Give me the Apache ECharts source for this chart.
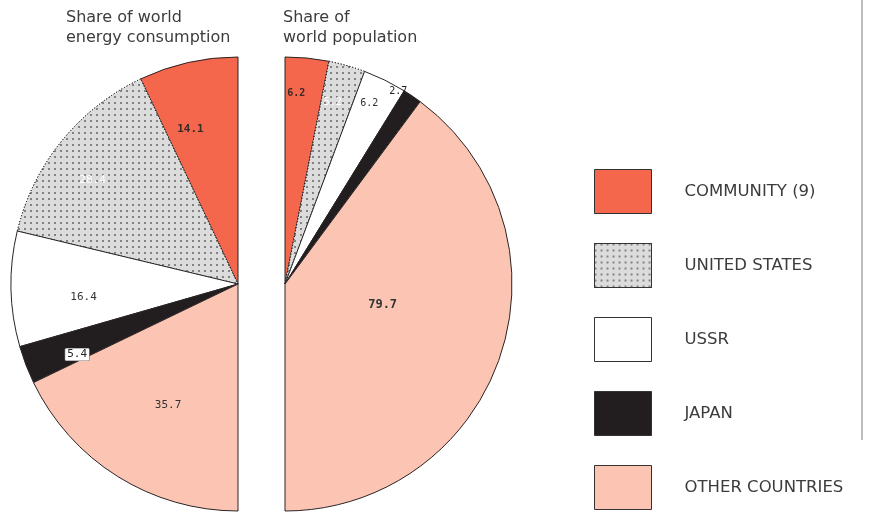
<!DOCTYPE html>
<html>
<head>
<meta charset="utf-8">
<script src="https://cdn.jsdelivr.net/npm/echarts@6/dist/echarts.min.js"></script>
<style>
  html, body { margin: 0; padding: 0; background: #fff; }
  #chart { width: 870px; height: 513px; }
</style>
</head>
<body>
<div id="chart"></div>
<script>
// Shares (%) of world totals by region
const regions = ['COMMUNITY (9)', 'UNITED STATES', 'USSR', 'JAPAN', 'OTHER COUNTRIES'];
const energyShare = [14.1, 28.4, 16.4, 5.4, 35.7];
const populationShare = [6.2, 5.2, 6.2, 2.7, 79.7];
const titles = ['Share of world\nenergy consumption', 'Share of\nworld population'];

// Region fills
const fills = ['#f4674c', '#dcdcdc', '#ffffff', '#221e1f', '#fcc5b3'];
const stipple = {
  symbol: 'circle',
  symbolSize: 1,
  dashArrayX: [1.3, 3.4],
  dashArrayY: [1.3, 3.4],
  color: 'rgba(60,60,60,0.75)'
};

// Label nudges from the default inside position of each wedge
const energyNudge = [[-22, -41], [-55, -30], [-38, 11], [-52, 29], [-8, 22]];
const popNudge = [[0, -75], [16, -70], [33, -76], [48, -96], [-13, -16]];

const labelColors = ['#3a2a28', '#ffffff', '#333', '#222', '#333'];

function buildData(values, pop) {
  return values.map((v, i) => {
    const item = {
      name: regions[i],
      value: v,
      itemStyle: { color: fills[i] },
      label: {
        color: labelColors[i],
        fontSize: pop ? (i === 4 ? 12 : 10) : 11,
        fontWeight: ((pop && (i === 0 || i === 4)) || (!pop && i === 0)) ? 'bold' : 'normal'
      }
    };
    if (i === 1) {
      item.itemStyle.decal = stipple;
      item.itemStyle.borderType = [1, 2];
    }
    if (!pop && i === 3) {
      item.label.backgroundColor = '#fff';
      item.label.borderColor = '#777';
      item.label.borderWidth = 0.6;
      item.label.padding = [1, 2, 0, 2];
      item.label.borderRadius = 1;
    }
    return item;
  });
}

const baseSeries = {
  type: 'pie',
  radius: 227,
  silent: true,
  avoidLabelOverlap: false,
  label: {
    show: true,
    position: 'inside',
    fontFamily: 'DejaVu Sans Mono',
    fontSize: 10,
    formatter: p => p.value.toFixed(1)
  },
  labelLine: { show: false },
  itemStyle: { borderColor: '#2b2424', borderWidth: 1 }
};

const titleStyle = { fontFamily: 'DejaVu Sans', fontSize: 16, fontWeight: 'normal', color: '#3c3c3c', lineHeight: 20 };

const chart = echarts.init(document.getElementById('chart'), null, { renderer: 'canvas' });
chart.setOption({
  animation: false,
  backgroundColor: '#ffffff',
  title: [
    { text: titles[0], left: 66, top: 8, padding: 0, textStyle: titleStyle },
    { text: titles[1], left: 283, top: 8, padding: 0, textStyle: titleStyle }
  ],
  legend: {
    orient: 'vertical',
    left: 594,
    top: 169,
    height: 420,
    padding: 0,
    itemWidth: 57,
    itemHeight: 44,
    itemGap: 29,
    icon: 'rect',
    selectedMode: false,
    data: regions,
    itemStyle: { borderColor: '#333', borderWidth: 1 },
    textStyle: {
      fontFamily: 'DejaVu Sans',
      fontSize: 16.5,
      color: '#3c3c3c',
      padding: [0, 0, 0, 28]
    }
  },
  series: [
    Object.assign({}, baseSeries, {
      name: 'energy',
      center: [238, 284],
      startAngle: 90,
      endAngle: 270,
      clockwise: false,
      data: buildData(energyShare, false),
      labelLayout: p => ({ dx: energyNudge[p.dataIndex][0], dy: energyNudge[p.dataIndex][1] })
    }),
    Object.assign({}, baseSeries, {
      name: 'population',
      center: [285, 284],
      startAngle: 90,
      endAngle: -90,
      clockwise: true,
      data: buildData(populationShare, true),
      labelLayout: p => ({ dx: popNudge[p.dataIndex][0], dy: popNudge[p.dataIndex][1] })
    })
  ],
  graphic: [
    { type: 'line', silent: true,
      shape: { x1: 862, y1: 0, x2: 862, y2: 440 },
      style: { stroke: '#a8a8a8', lineWidth: 1.5 } }
  ]
});
</script>
</body>
</html>
